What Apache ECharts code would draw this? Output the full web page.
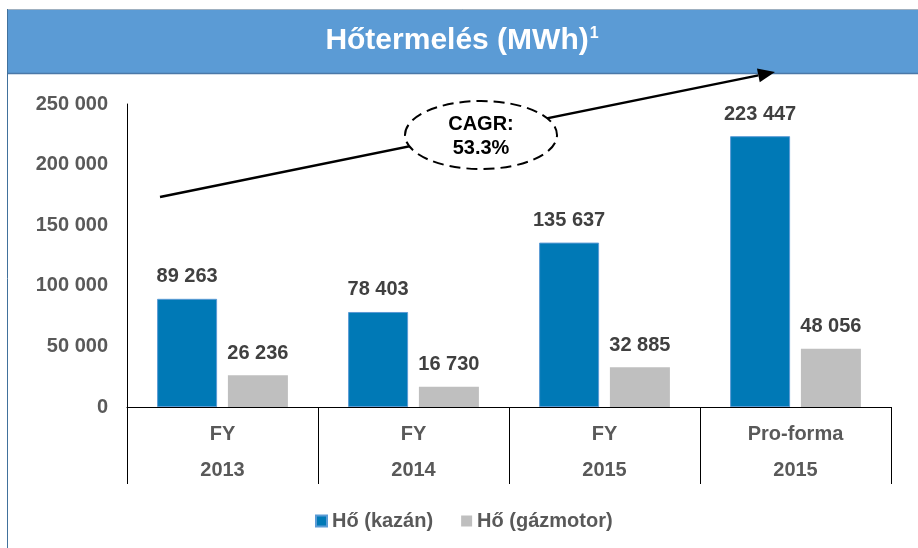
<!DOCTYPE html>
<html><head><meta charset="utf-8">
<script src="https://cdn.jsdelivr.net/npm/echarts@6/dist/echarts.min.js"></script>
<style>html,body{margin:0;padding:0;background:#fff}#c{width:918px;height:548px}</style>
</head><body><div id="c"></div>
<script>
const categories = ['FY\n2013', 'FY\n2014', 'FY\n2015', 'Pro-forma\n2015'];
const kazan = [89263, 78403, 135637, 223447];
const gazmotor = [26236, 16730, 32885, 48056];
const seriesNames = ['Hő (kazán)', 'Hő (gázmotor)'];
const yMin = 0, yMax = 250000, yStep = 50000;
const titleText = 'Hőtermelés (MWh)';
const titleSup = '1';
const cagrText = 'CAGR:\n53.3%';

const FONT = '"Liberation Sans", Arial, sans-serif';
const fmt = v => String(v).replace(/\B(?=(\d{3})+(?!\d))/g, ' ');

// arrow annotation (decoration)
const a0 = [160, 197], a1 = [775, 72];
const dx = a1[0] - a0[0], dy = a1[1] - a0[1], L = Math.hypot(dx, dy);
const ux = dx / L, uy = dy / L, px = -uy, py = ux;
const hl = 17, hw = 7;
const bx = a1[0] - hl * ux, by = a1[1] - hl * uy;

const chart = echarts.init(document.getElementById('c'), null, {renderer: 'canvas'});
chart.setOption({
  animation: false,
  textStyle: {fontFamily: FONT},
  grid: {left: 127, right: 27, top: 104, bottom: 141, containLabel: false},
  legend: {
    left: 310, top: 506, itemWidth: 11, itemHeight: 11, itemGap: 28,
    icon: 'rect',
    textStyle: {fontFamily: FONT, fontSize: 20, fontWeight: 'bold', color: '#595959'},
    data: seriesNames
  },
  xAxis: {
    type: 'category', data: categories,
    axisLine: {lineStyle: {color: '#000', width: 1}},
    axisTick: {show: true, length: 77, lineStyle: {color: '#000', width: 1}},
    axisLabel: {
      margin: 9, fontFamily: FONT, fontSize: 20, fontWeight: 'bold',
      color: '#595959', lineHeight: 36
    }
  },
  yAxis: {
    type: 'value', min: yMin, max: yMax, interval: yStep,
    splitLine: {show: false},
    axisLine: {show: true, lineStyle: {color: '#000', width: 1}},
    axisTick: {show: false},
    axisLabel: {
      margin: 19, fontFamily: FONT, fontSize: 20, fontWeight: 'bold',
      color: '#595959', formatter: v => fmt(v)
    }
  },
  series: [
    {
      name: seriesNames[0], type: 'bar', data: kazan, barWidth: 60, barGap: '18%',
      itemStyle: {color: '#0079B6', borderColor: '#5B9BD5', borderWidth: 1},
      label: {show: true, position: 'top', distance: 12, fontFamily: FONT, fontSize: 20,
        fontWeight: 'bold', color: '#404040', formatter: p => fmt(p.value)}
    },
    {
      name: seriesNames[1], type: 'bar', data: gazmotor, barWidth: 60,
      itemStyle: {color: '#BFBFBF'},
      label: {show: true, position: 'top', distance: 12, fontFamily: FONT, fontSize: 20,
        fontWeight: 'bold', color: '#404040', formatter: p => fmt(p.value)}
    }
  ],
  graphic: [
    {type: 'rect', z: 10, shape: {x: 7, y: 9, width: 911, height: 64},
      style: {fill: '#5B9BD5'}},
    {type: 'line', z: 11, shape: {x1: 7, y1: 9.5, x2: 918, y2: 9.5},
      style: {stroke: '#9FB0C0', lineWidth: 1}},
    {type: 'line', z: 11, shape: {x1: 7, y1: 73.5, x2: 918, y2: 73.5},
      style: {stroke: '#4A78A8', lineWidth: 1.5}},
    {type: 'line', z: 11, shape: {x1: 7.5, y1: 9, x2: 7.5, y2: 548},
      style: {stroke: '#41719C', lineWidth: 1}},
    {type: 'text', z: 12, x: 462, y: 41,
      style: {
        text: '{a|' + titleText + '}{s|' + titleSup + '}',
        align: 'center', verticalAlign: 'middle',
        rich: {
          a: {fontFamily: FONT, fontSize: 30, fontWeight: 'bold', fill: '#fff'},
          s: {fontFamily: FONT, fontSize: 16, fontWeight: 'bold', fill: '#fff', padding: [0, 0, 14, 1]}
        }
      }},
    {type: 'line', z: 20, shape: {x1: a0[0], y1: a0[1], x2: bx, y2: by},
      style: {stroke: '#000', lineWidth: 2.5}},
    {type: 'polygon', z: 20, shape: {points: [[a1[0], a1[1]], [bx + hw * px, by + hw * py], [bx - hw * px, by - hw * py]]},
      style: {fill: '#000'}},
    {type: 'ellipse', z: 21, shape: {cx: 481, cy: 135, rx: 76, ry: 34},
      style: {fill: '#fff', stroke: '#000', lineWidth: 2, lineDash: [11, 6]}},
    {type: 'text', z: 22, x: 481, y: 136,
      style: {text: cagrText, align: 'center', verticalAlign: 'middle',
        fontFamily: FONT, fontSize: 20, fontWeight: 'bold', fill: '#000', lineHeight: 24}}
  ]
});
</script>
</body></html>
